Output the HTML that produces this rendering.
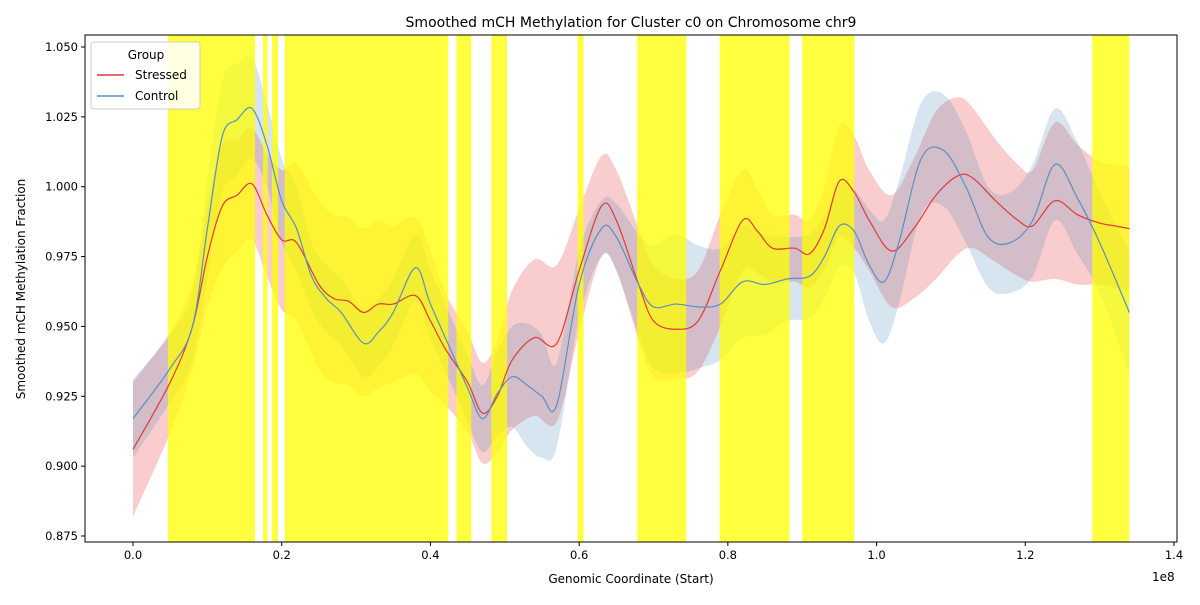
<!DOCTYPE html>
<html><head><meta charset="utf-8"><style>
body{margin:0;background:#fff;font-family:"Liberation Sans","DejaVu Sans",sans-serif}
svg text{font-family:"DejaVu Sans","Liberation Sans",sans-serif;fill:#000}
</style></head><body>
<svg id="c" width="1200" height="600" xmlns="http://www.w3.org/2000/svg"></svg>
<script>
const xs=[0,0.5,0.8,1.0,1.2,1.4,1.6,1.8,2.0,2.2,2.5,2.7,2.9,3.1,3.3,3.5,3.8,4.0,4.2,4.5,4.7,4.9,5.1,5.4,5.7,6.0,6.3,6.5,6.8,7.0,7.3,7.6,7.9,8.2,8.4,8.6,8.9,9.1,9.3,9.5,9.7,9.9,10.2,10.5,10.8,11.1,11.3,11.6,11.9,12.1,12.4,12.7,13.0,13.2,13.4];
const stressed=[0.906,0.930,0.950,0.975,0.993,0.997,1.001,0.990,0.981,0.980,0.965,0.960,0.959,0.955,0.958,0.958,0.961,0.952,0.942,0.930,0.919,0.925,0.938,0.946,0.944,0.970,0.993,0.988,0.965,0.952,0.949,0.952,0.970,0.988,0.984,0.978,0.978,0.976,0.985,1.002,0.998,0.988,0.977,0.985,0.997,1.004,1.003,0.995,0.988,0.986,0.995,0.990,0.987,0.986,0.985];
const stressedErr=[0.024,0.018,0.015,0.018,0.022,0.020,0.020,0.022,0.025,0.028,0.030,0.030,0.030,0.030,0.030,0.028,0.028,0.025,0.020,0.018,0.018,0.020,0.025,0.028,0.028,0.022,0.018,0.018,0.020,0.020,0.018,0.018,0.020,0.018,0.015,0.012,0.012,0.012,0.015,0.020,0.020,0.018,0.020,0.025,0.030,0.028,0.025,0.022,0.020,0.020,0.028,0.025,0.022,0.022,0.022];
const cxs=[0,0.5,0.8,1.0,1.2,1.4,1.6,1.8,2.0,2.2,2.4,2.6,2.8,3.1,3.3,3.5,3.8,4.0,4.3,4.5,4.7,4.9,5.1,5.3,5.5,5.7,6.0,6.3,6.5,6.8,7.0,7.3,7.6,7.9,8.2,8.5,8.8,9.1,9.3,9.5,9.7,9.9,10.1,10.3,10.6,10.9,11.2,11.5,11.8,12.1,12.4,12.7,13.0,13.4];
const control=[0.917,0.935,0.950,0.985,1.018,1.024,1.028,1.015,0.995,0.985,0.968,0.960,0.955,0.944,0.948,0.955,0.971,0.958,0.940,0.928,0.917,0.926,0.932,0.929,0.925,0.922,0.965,0.985,0.982,0.965,0.957,0.958,0.957,0.958,0.966,0.965,0.967,0.968,0.975,0.986,0.984,0.972,0.966,0.980,1.010,1.013,1.000,0.982,0.980,0.988,1.008,0.996,0.980,0.955];
const controlErr=[0.014,0.012,0.012,0.018,0.020,0.020,0.018,0.015,0.015,0.015,0.012,0.012,0.012,0.012,0.012,0.012,0.012,0.012,0.012,0.012,0.012,0.015,0.018,0.022,0.022,0.015,0.012,0.010,0.012,0.018,0.022,0.025,0.022,0.020,0.020,0.018,0.015,0.015,0.015,0.015,0.015,0.020,0.022,0.022,0.020,0.020,0.020,0.018,0.018,0.020,0.020,0.020,0.018,0.022];
const spans=[[0.47,1.64],[1.75,1.81],[1.87,1.95],[2.04,4.24],[4.35,4.55],[4.82,5.03],[5.98,6.06],[6.78,7.44],[7.89,8.83],[9.0,9.7],[12.9,13.4]];
const xTicks=[0,0.2,0.4,0.6,0.8,1.0,1.2,1.4];
const yTicks=[0.875,0.900,0.925,0.950,0.975,1.000,1.025,1.050];

const L=85,R=1177,T=35,B=542;
const X=v=>133+v*(1174-133)/14;
const Y=v=>536-(v-0.875)*(536-47)/0.175;
const svg=document.getElementById('c');
const NS='http://www.w3.org/2000/svg';
function mk(t,a,p){const e=document.createElementNS(NS,t);for(const k in a)e.setAttribute(k,a[k]);(p||svg).appendChild(e);return e;}
const defs=mk('defs',{});const cp=mk('clipPath',{id:'clip'},defs);mk('rect',{x:L,y:T,width:R-L,height:B-T},cp);
const g=mk('g',{'clip-path':'url(#clip)'});
function smooth(pts,start){let d=start?'M'+pts[0][0]+','+pts[0][1]:'L'+pts[0][0]+','+pts[0][1];
for(let i=0;i<pts.length-1;i++){const p0=pts[Math.max(0,i-1)],p1=pts[i],p2=pts[i+1],p3=pts[Math.min(pts.length-1,i+2)];
const c1=[p1[0]+(p2[0]-p0[0])/6,p1[1]+(p2[1]-p0[1])/6],c2=[p2[0]-(p3[0]-p1[0])/6,p2[1]-(p3[1]-p1[1])/6];
d+='C'+c1+' '+c2+' '+p2;}return d;}
function band(xa,ya,ea,col,op,name){const up=xa.map((x,i)=>[X(x),Y(ya[i]+ea[i])]);
const lo=xa.map((x,i)=>[X(x),Y(ya[i]-ea[i])]).reverse();
const p=mk('path',{d:smooth(up,true)+smooth(lo,false)+'Z',fill:col,'fill-opacity':op},g);

}
function line(xa,ya,col,name){const p=mk('path',{d:smooth(xa.map((x,i)=>[X(x),Y(ya[i])]),true),fill:'none',stroke:col,'stroke-width':1.2},g);

}
band(xs,stressed,stressedErr,'#e41a1c',0.22,'stressed-band');
band(cxs,control,controlErr,'#377eb8',0.2,'control-band');
spans.forEach(s=>{const r=mk('rect',{x:X(s[0]),y:T,width:X(s[1])-X(s[0]),height:B-T,fill:'#ffff00','fill-opacity':0.75},g);

});
line(xs,stressed,'#e03a3a','stressed-line');
line(cxs,control,'#5b8fc4','control-line');
mk('rect',{x:L,y:T,width:R-L,height:B-T,fill:'none',stroke:'#000','stroke-width':1});
xTicks.forEach(t=>{mk('line',{x1:X(t*10),x2:X(t*10),y1:B,y2:B+4,stroke:'#000'});
const tx=mk('text',{x:X(t*10),y:B+17,'text-anchor':'middle','font-size':11.5});tx.textContent=t.toFixed(1);

});
yTicks.forEach(t=>{mk('line',{x1:L-4,x2:L,y1:Y(t),y2:Y(t),stroke:'#000'});
const tx=mk('text',{x:L-7,y:Y(t)+4,'text-anchor':'end','font-size':11.5});tx.textContent=t.toFixed(3);

});
</script>
<svg style="position:absolute;left:0;top:0" width="1200" height="600">
<text x="631" y="27" text-anchor="middle" font-size="14">Smoothed mCH Methylation for Cluster c0 on Chromosome chr9</text>
<text x="631" y="583" text-anchor="middle" font-size="12">Genomic Coordinate (Start)</text>
<text x="1152" y="581" font-size="12">1e8</text>
<text transform="translate(25,289) rotate(-90)" text-anchor="middle" font-size="12">Smoothed mCH Methylation Fraction</text>
<g>
<rect x="91" y="42" width="109" height="67" rx="3" fill="#fff" fill-opacity="0.85" stroke="#ccc"/>
<text x="146" y="59" text-anchor="middle" font-size="12">Group</text>
<line x1="97" x2="124" y1="75" y2="75" stroke="#e03a3a" stroke-width="1.5"/>
<text x="135" y="79" font-size="12">Stressed</text>
<line x1="97" x2="124" y1="96" y2="96" stroke="#5b8fc4" stroke-width="1.5"/>
<text x="135" y="100" font-size="12">Control</text>
</g>
</svg>
</body></html>
